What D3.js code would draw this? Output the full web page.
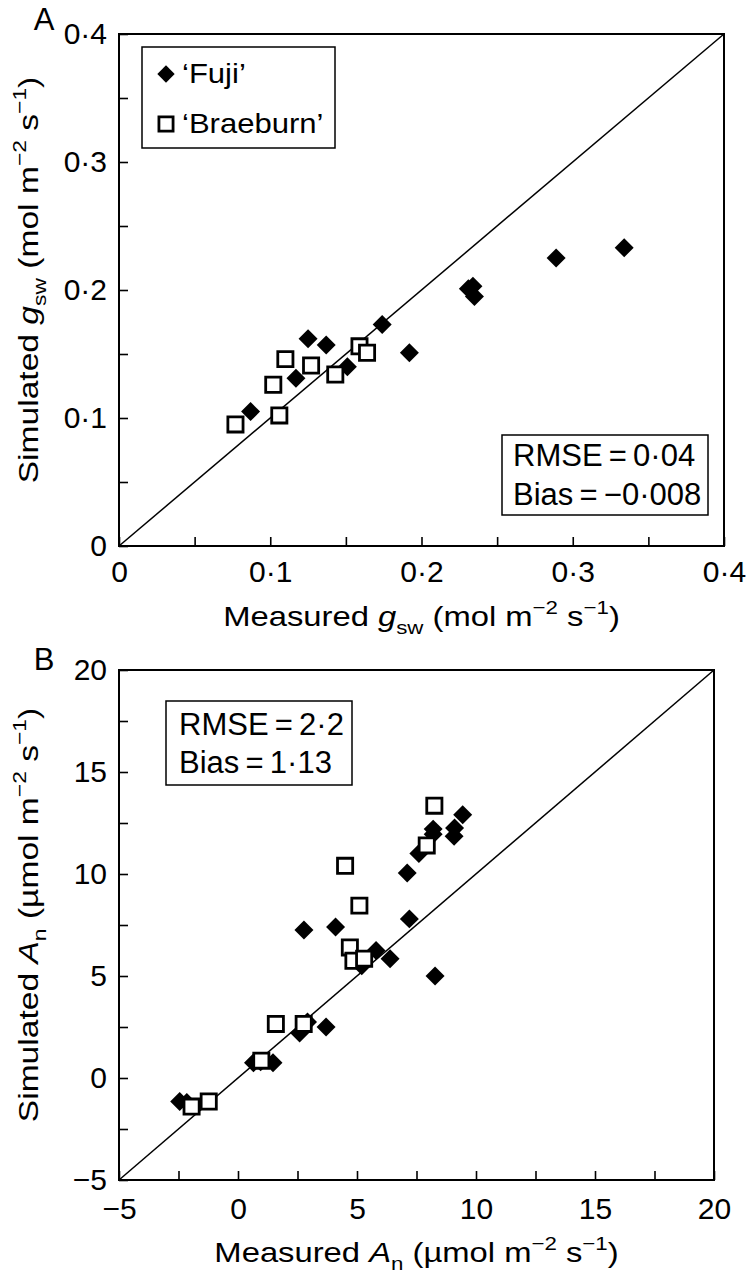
<!DOCTYPE html>
<html>
<head>
<meta charset="utf-8">
<script src="https://cdn.jsdelivr.net/npm/d3@7"></script>
<style>
  body { margin: 0; background: #fff; }
  svg { display: block; font-family: "Liberation Sans", Arial, sans-serif; }
</style>
</head>
<body>
<div id="chart"></div>
<script>
// panel A: stomatal conductance (mol m-2 s-1)
var fujiGsMeasured  = [0.087, 0.117, 0.125, 0.137, 0.151, 0.174, 0.192, 0.231, 0.234, 0.235, 0.289, 0.334];
var fujiGsSimulated = [0.105, 0.131, 0.162, 0.157, 0.140, 0.173, 0.151, 0.201, 0.203, 0.195, 0.225, 0.233];
var braeGsMeasured  = [0.077, 0.102, 0.106, 0.110, 0.127, 0.143, 0.159, 0.164];
var braeGsSimulated = [0.095, 0.126, 0.102, 0.146, 0.141, 0.134, 0.156, 0.151];

// panel B: net assimilation (umol m-2 s-1)
var fujiAnMeasured  = [-2.45, -2.15, 0.65, 0.95, 1.47, 2.59, 2.92, 3.70, 2.77, 4.10, 5.20, 5.80, 6.39, 7.11, 7.20, 7.60, 8.20, 8.20, 8.28, 9.10, 9.08, 9.44];
var fujiAnSimulated = [-1.15, -1.20, 0.75, 0.80, 0.75, 2.20, 2.75, 2.50, 7.25, 7.40, 5.50, 6.25, 5.85, 10.05, 7.80, 11.00, 12.20, 11.95, 5.00, 12.25, 11.85, 12.90];
var braeAnMeasured  = [-1.95, -1.23, 0.98, 1.59, 2.76, 4.50, 5.10, 4.70, 4.85, 5.30, 7.93, 8.25];
var braeAnSimulated = [-1.40, -1.15, 0.85, 2.65, 2.65, 10.40, 8.45, 6.40, 5.75, 5.85, 11.40, 13.35];

var gsTicks = [0, 0.05, 0.1, 0.15, 0.2, 0.25, 0.3, 0.35, 0.4];
var anTicks = [-5, -2.5, 0, 2.5, 5, 7.5, 10, 12.5, 15, 17.5, 20];

var width = 747;
var height = 1280;

var svg = d3.select("#chart")
  .append("svg")
  .attr("width", width)
  .attr("height", height);

svg.append("rect").attr("width", width).attr("height", height).attr("fill", "#fff");

function zip(a, b) {
  return a.map(function(v, i) { return [v, b[i]]; });
}

// text with sub/superscripts, optionally stretched horizontally
function richText(parent, x, y, parts, size, sx, rot, anchor) {
  var g = parent.append("g")
    .attr("transform", "translate(" + x + "," + y + ")" + (rot ? " rotate(" + rot + ")" : "") + " scale(" + sx + ",1)");
  var t = g.append("text")
    .attr("font-size", size)
    .attr("text-anchor", anchor || "start")
    .attr("fill", "#000");
  var prev = 0;
  parts.forEach(function(p) {
    var sh = (p.sub ? 0.28 : p.sup ? -0.42 : 0) * size;
    var ts = t.append("tspan").text(p.t).attr("dy", sh - prev);
    if (p.sub || p.sup) ts.attr("font-size", size * 0.68);
    if (p.it) ts.attr("font-style", "italic");
    prev = sh;
  });
  return t;
}

function panel(cfg) {
  var xScale = d3.scaleLinear().domain(cfg.domain).range([cfg.left, cfg.right]);
  var yScale = d3.scaleLinear().domain(cfg.domain).range([cfg.bottom, cfg.top]);

  var fmt = function(d) {
    if (cfg.labels.indexOf(d) < 0) return "";
    return cfg.fmt(d);
  };

  var xAxis = d3.axisBottom(xScale)
    .tickValues(cfg.ticks)
    .tickSizeInner(-9)
    .tickSizeOuter(0)
    .tickPadding(cfg.xPad)
    .tickFormat(fmt);
  var yAxis = d3.axisLeft(yScale)
    .tickValues(cfg.ticks)
    .tickSizeInner(-9)
    .tickSizeOuter(0)
    .tickPadding(12)
    .tickFormat(fmt);

  var gx = svg.append("g")
    .attr("transform", "translate(0," + cfg.bottom + ")")
    .call(xAxis);
  var gy = svg.append("g")
    .attr("transform", "translate(" + cfg.left + ",0)")
    .call(yAxis);

  [gx, gy].forEach(function(g) {
    g.select(".domain").remove();
    g.selectAll(".tick line").attr("stroke", "#000").attr("stroke-width", 1.6);
    g.selectAll(".tick text")
      .attr("font-size", 30)
      .attr("font-family", "Liberation Sans, Arial, sans-serif")
      .attr("fill", "#000");
  });

  // frame
  svg.append("rect")
    .attr("x", cfg.left)
    .attr("y", cfg.top)
    .attr("width", cfg.right - cfg.left)
    .attr("height", cfg.bottom - cfg.top)
    .attr("fill", "none")
    .attr("stroke", "#000")
    .attr("stroke-width", 2);

  // 1:1 line
  svg.append("line")
    .attr("x1", xScale(cfg.domain[0]))
    .attr("y1", yScale(cfg.domain[0]))
    .attr("x2", xScale(cfg.domain[1]))
    .attr("y2", yScale(cfg.domain[1]))
    .attr("stroke", "#000")
    .attr("stroke-width", 1.5);

  var diamond = d3.symbol().type(d3.symbolSquare).size(180);
  var square = d3.symbol().type(d3.symbolSquare).size(230);

  svg.append("g").selectAll("path")
    .data(cfg.fuji)
    .enter()
    .append("path")
    .attr("d", diamond)
    .attr("transform", function(d) {
      return "translate(" + xScale(d[0]) + "," + yScale(d[1]) + ") rotate(45)";
    })
    .attr("fill", "#000");

  svg.append("g").selectAll("path")
    .data(cfg.brae)
    .enter()
    .append("path")
    .attr("d", square)
    .attr("transform", function(d) {
      return "translate(" + xScale(d[0]) + "," + yScale(d[1]) + ")";
    })
    .attr("fill", "#fff")
    .attr("stroke", "#000")
    .attr("stroke-width", 2.8);

  // panel letter
  svg.append("text")
    .attr("x", 44)
    .attr("y", cfg.letterY)
    .attr("text-anchor", "middle")
    .attr("font-size", 31)
    .text(cfg.letter);

  // axis titles
  richText(svg, (cfg.left + cfg.right) / 2, cfg.xTitleY, cfg.xTitle, 28, 1.17, 0, "middle");
  richText(svg, 38, cfg.yTitleY, cfg.yTitle, 28, 1.2, -90, "middle");

  // stats box
  var sb = cfg.stats;
  svg.append("rect")
    .attr("x", sb.x).attr("y", sb.y)
    .attr("width", sb.w).attr("height", sb.h)
    .attr("fill", "#fff")
    .attr("stroke", "#000")
    .attr("stroke-width", 1.5);
  sb.lines.forEach(function(l, i) {
    svg.append("text")
      .attr("x", sb.tx)
      .attr("y", sb.ty + i * sb.dy)
      .attr("font-size", 31)
      .text(l);
  });

  return { x: xScale, y: yScale };
}

var gsFmt = function(d) { return d === 0 ? "0" : d3.format(".1f")(d).replace(".", "\u00B7"); };
var anFmt = d3.format("d");

var pA = panel({
  domain: [0, 0.4],
  left: 119, right: 724, top: 34, bottom: 546,
  ticks: gsTicks,
  labels: [0, 0.1, 0.2, 0.3, 0.4],
  fmt: gsFmt,
  xPad: 15,
  fuji: zip(fujiGsMeasured, fujiGsSimulated),
  brae: zip(braeGsMeasured, braeGsSimulated),
  letter: "A",
  letterY: 30,
  xTitleY: 626,
  yTitleY: 280,
  xTitle: [{t: "Measured "}, {t: "g", it: true}, {t: "sw", sub: true}, {t: " (mol m"}, {t: "\u22122", sup: true}, {t: " s"}, {t: "\u22121", sup: true}, {t: ")"}],
  yTitle: [{t: "Simulated "}, {t: "g", it: true}, {t: "sw", sub: true}, {t: " (mol m"}, {t: "\u22122", sup: true}, {t: " s"}, {t: "\u22121", sup: true}, {t: ")"}],
  stats: {x: 502, y: 435, w: 206, h: 80, tx: 513, ty: 466, dy: 39,
    lines: ["RMSE\u2009=\u20090\u00B704", "Bias\u2009=\u2009\u22120\u00B7008"]}
});

// legend (panel A)
var legend = svg.append("g");
legend.append("rect")
  .attr("x", 142).attr("y", 47)
  .attr("width", 193).attr("height", 101)
  .attr("fill", "#fff")
  .attr("stroke", "#000")
  .attr("stroke-width", 1.5);
legend.append("path")
  .attr("d", d3.symbol().type(d3.symbolSquare).size(150))
  .attr("transform", "translate(166,74) rotate(45)")
  .attr("fill", "#000");
legend.append("path")
  .attr("d", d3.symbol().type(d3.symbolSquare).size(200))
  .attr("transform", "translate(166,124)")
  .attr("fill", "#fff")
  .attr("stroke", "#000")
  .attr("stroke-width", 2.8);
richText(legend, 182, 83, [{t: "\u2018Fuji\u2019"}], 27, 1.15, 0, "start");
richText(legend, 182, 133, [{t: "\u2018Braeburn\u2019"}], 27, 1.15, 0, "start");

var pB = panel({
  domain: [-5, 20],
  left: 119, right: 714, top: 670, bottom: 1180,
  ticks: anTicks,
  labels: [-5, 0, 5, 10, 15, 20],
  fmt: anFmt,
  xPad: 18,
  fuji: zip(fujiAnMeasured, fujiAnSimulated),
  brae: zip(braeAnMeasured, braeAnSimulated),
  letter: "B",
  letterY: 670,
  xTitleY: 1262,
  yTitleY: 915,
  xTitle: [{t: "Measured "}, {t: "A", it: true}, {t: "n", sub: true}, {t: " (\u00B5mol m"}, {t: "\u22122", sup: true}, {t: " s"}, {t: "\u22121", sup: true}, {t: ")"}],
  yTitle: [{t: "Simulated "}, {t: "A", it: true}, {t: "n", sub: true}, {t: " (\u00B5mol m"}, {t: "\u22122", sup: true}, {t: " s"}, {t: "\u22121", sup: true}, {t: ")"}],
  stats: {x: 166, y: 701, w: 186, h: 84, tx: 179, ty: 735, dy: 38,
    lines: ["RMSE\u2009=\u20092\u00B72", "Bias\u2009=\u20091\u00B713"]}
});
</script>
</body>
</html>
